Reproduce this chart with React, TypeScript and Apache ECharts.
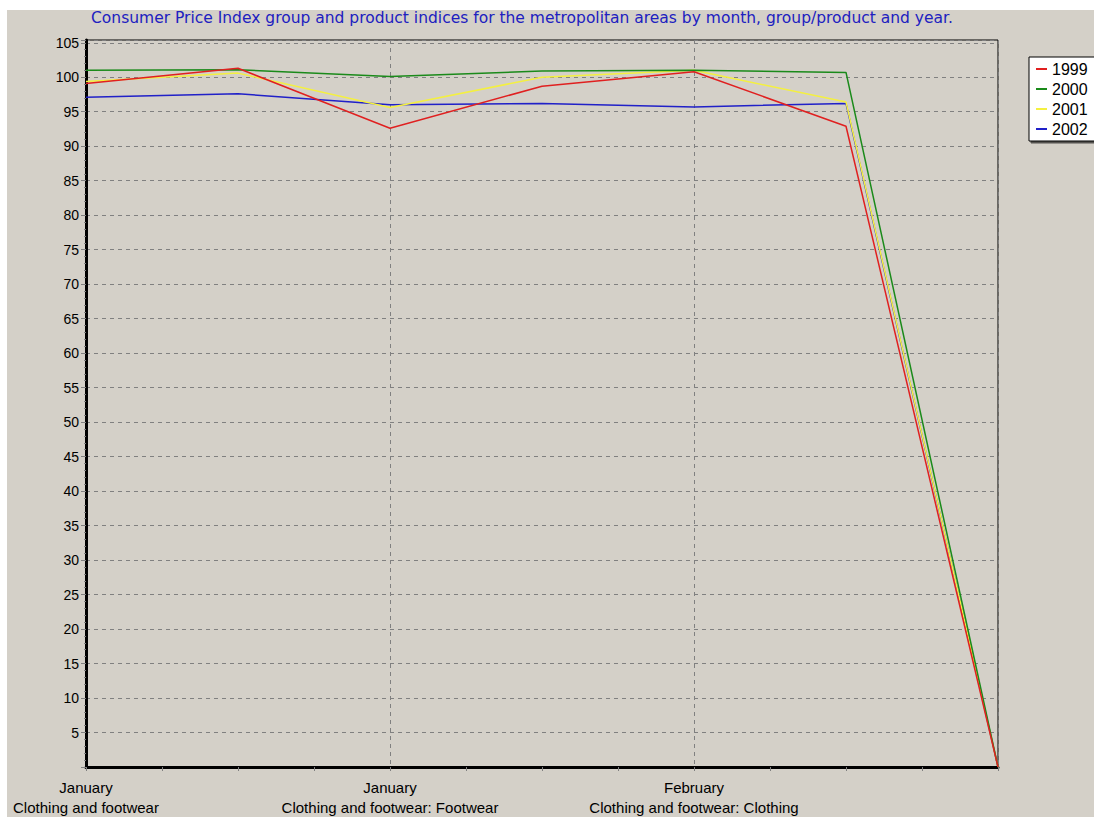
import React, { useEffect, useRef } from "react";
import * as echarts from "echarts";

const titleText =
  "Consumer Price Index group and product indices for the metropolitan areas by month, group/product and year.";

const categories = [
  "January\nClothing and footwear",
  "February\nClothing and footwear",
  "January\nClothing and footwear: Footwear",
  "February\nClothing and footwear: Footwear",
  "February\nClothing and footwear: Clothing",
  "January\nClothing and footwear: Clothing",
  "",
];

const seriesNames = ["1999", "2000", "2001", "2002"];
const values1999 = [99.1, 101.3, 92.6, 98.7, 100.8, 92.9, 0];
const values2000 = [101.0, 101.1, 100.1, 100.9, 101.0, 100.7, 0];
const values2001 = [99.4, 100.6, 95.6, 100.0, 101.0, 96.4, 0];
const values2002 = [97.1, 97.6, 96.0, 96.2, 95.7, 96.2, 0];
const seriesColors = ["#e02020", "#1a8a1a", "#f4f040", "#2020c8"];

const shownLabelIndices = [0, 2, 4];

export default function App() {
  const ref = useRef<HTMLDivElement>(null);
  useEffect(() => {
    if (!ref.current) return;
    const chart = echarts.init(ref.current, null, { renderer: "svg" });
    const allValues = [values1999, values2000, values2001, values2002];
    const font = "'Liberation Sans', Arial, sans-serif";
    chart.setOption({
      animation: false,
      backgroundColor: "#ffffff",
      textStyle: { fontFamily: font },
      graphic: [
        {
          type: "rect",
          z: -10,
          silent: true,
          shape: { x: 7, y: 10, width: 1100, height: 820 },
          style: { fill: "#d4d0c8" },
        },
      ],
      title: {
        text: titleText,
        left: 91,
        top: 10,
        padding: 0,
        textStyle: {
          color: "#2020c0",
          fontSize: 15.5,
          fontWeight: "normal",
          fontFamily: "'DejaVu Sans', sans-serif",
        },
      },
      legend: {
        orient: "vertical",
        left: 1029,
        top: 57,
        data: seriesNames,
        icon: "rect",
        itemWidth: 11,
        itemHeight: 2,
        itemGap: 4,
        padding: [4, 18, 4, 7],
        backgroundColor: "#ffffff",
        borderColor: "#000000",
        borderWidth: 1,
        borderRadius: 0,
        shadowColor: "rgba(0,0,0,0.6)",
        shadowOffsetX: 2,
        shadowOffsetY: 2,
        shadowBlur: 0,
        textStyle: { color: "#000", fontSize: 16, lineHeight: 16, fontFamily: font },
      },
      grid: {
        left: 86,
        right: 96,
        top: 40,
        bottom: 50,
        show: true,
        borderColor: "#000",
        borderWidth: 1,
        backgroundColor: "transparent",
      },
      xAxis: {
        type: "value",
        min: 0,
        max: categories.length - 1,
        interval: 2,
        axisLine: { show: true, lineStyle: { color: "#000", width: 3 } },
        axisTick: { show: true, length: 4, lineStyle: { color: "#808080" } },
        minorTick: { show: true, splitNumber: 4, length: 4, lineStyle: { color: "#808080" } },
        splitLine: {
          show: true,
          lineStyle: { color: "#808080", type: [4, 4], width: 1 },
        },
        axisLabel: {
          color: "#000",
          fontSize: 15,
          lineHeight: 20,
          margin: 10,
          fontFamily: font,
          formatter: (v: number) =>
            shownLabelIndices.indexOf(Math.round(v)) >= 0 ? categories[Math.round(v)] : "",
        },
      },
      yAxis: {
        type: "value",
        min: 0,
        max: 105.4,
        interval: 5,
        axisLine: { show: true, lineStyle: { color: "#000", width: 3 } },
        axisTick: { show: true, length: 5, lineStyle: { color: "#808080" } },
        minorTick: { show: true, splitNumber: 5, length: 2, lineStyle: { color: "#808080" } },
        splitLine: {
          show: true,
          lineStyle: { color: "#808080", type: [4, 4], width: 1 },
        },
        axisLabel: {
          color: "#000",
          fontSize: 14,
          margin: 7,
          fontFamily: font,
          formatter: (v: number) => (v > 0 && Math.abs(v % 5) < 1e-6 ? String(v) : ""),
        },
      },
      series: seriesNames.map((name, i) => ({
        name,
        type: "line",
        data: allValues[i].map((v, j) => [j, v]),
        showSymbol: false,
        symbol: "none",
        lineStyle: { color: seriesColors[i], width: 1.5 },
        itemStyle: { color: seriesColors[i] },
        z: 5 - i,
      })),
    });
    return () => chart.dispose();
  }, []);
  return (
    <div
      ref={ref}
      style={{ position: "absolute", left: 0, top: 0, width: 1094, height: 817 }}
    />
  );
}
